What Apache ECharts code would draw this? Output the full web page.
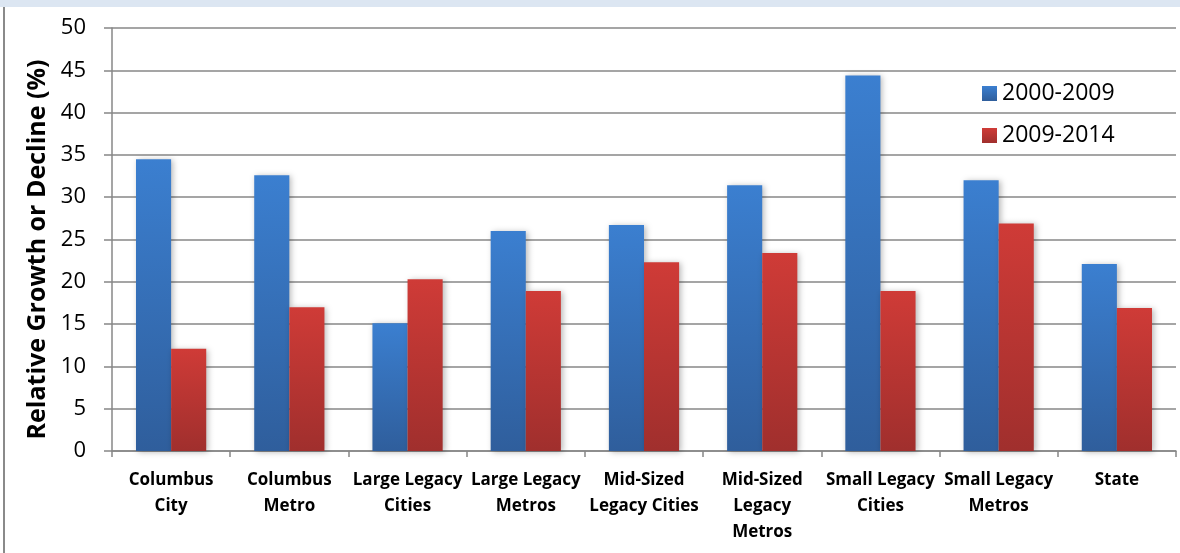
<!DOCTYPE html>
<html>
<head>
<meta charset="utf-8">
<script src="https://cdn.jsdelivr.net/npm/echarts@6/dist/echarts.min.js"></script>
<style>
  html, body { margin: 0; padding: 0; background: #fff; }
  #chart { width: 1180px; height: 553px; }
</style>
</head>
<body>
<div id="chart"></div>
<script>
// Region groups along the category axis
const categories = [
  'Columbus\nCity',
  'Columbus\nMetro',
  'Large Legacy\nCities',
  'Large Legacy\nMetros',
  'Mid-Sized\nLegacy Cities',
  'Mid-Sized\nLegacy\nMetros',
  'Small Legacy\nCities',
  'Small Legacy\nMetros',
  'State'
];

// Relative growth or decline (%) per period
const growth2000to2009 = [34.5, 32.6, 15.1, 26.0, 26.7, 31.4, 44.4, 32.0, 22.1];
const growth2009to2014 = [12.1, 17.0, 20.3, 18.9, 22.3, 23.4, 18.9, 26.9, 16.9];

const seriesNames = ['2000-2009', '2009-2014'];
const yTicks = { min: 0, max: 50, step: 5 };
const yTitle = 'Relative Growth or Decline (%)';

const FONT = '"Open Sans", "Noto Sans", sans-serif';
const AXIS_GRAY = '#878787';

function vGrad(top, bottom) {
  return new echarts.graphic.LinearGradient(0, 0, 0, 1, [
    { offset: 0, color: top },
    { offset: 1, color: bottom }
  ]);
}

const blueFill = vGrad('#3b7fd0', '#2f5e9c');
const redFill = vGrad('#cf3b37', '#a02f2d');

const barShadow = {
  shadowBlur: 6,
  shadowColor: 'rgba(0,0,0,0.28)',
  shadowOffsetX: 2,
  shadowOffsetY: 1
};

const chart = echarts.init(document.getElementById('chart'), null, { renderer: 'canvas' });

chart.setOption({
  animation: false,
  backgroundColor: '#ffffff',
  textStyle: { fontFamily: FONT },
  graphic: [
    // pale band across the top edge
    { type: 'rect', left: 0, top: 0, shape: { width: 1180, height: 7 }, style: { fill: '#dce6f2' }, silent: true },
    // frame line on the left side
    { type: 'rect', left: 3, top: 7, shape: { width: 2, height: 546 }, style: { fill: '#8a8a8a' }, silent: true }
  ],
  grid: { left: 112, right: 4, top: 28, bottom: 102, containLabel: false },
  legend: {
    data: seriesNames,
    orient: 'vertical',
    left: 977,
    top: 77,
    icon: 'rect',
    itemWidth: 15,
    itemHeight: 15,
    itemGap: 19,
    textStyle: { fontSize: 23, color: '#000', fontFamily: FONT },
    selectedMode: false
  },
  xAxis: {
    type: 'category',
    data: categories,
    boundaryGap: true,
    axisLine: { show: true, lineStyle: { color: AXIS_GRAY, width: 1.5 } },
    axisTick: { show: true, length: 6, alignWithLabel: false, lineStyle: { color: AXIS_GRAY, width: 1.5 } },
    axisLabel: {
      interval: 0,
      margin: 16,
      fontSize: 17,
      fontWeight: 'bold',
      color: '#000',
      lineHeight: 26,
      fontFamily: FONT
    },
    splitLine: { show: false }
  },
  yAxis: {
    type: 'value',
    min: yTicks.min,
    max: yTicks.max,
    interval: yTicks.step,
    name: yTitle,
    nameLocation: 'middle',
    nameGap: 62,
    nameRotate: 90,
    nameTextStyle: {
      fontSize: 25,
      fontWeight: 'bold',
      color: '#000',
      fontFamily: FONT,
      padding: [0, 20, 0, 0]
    },
    axisLine: { show: true, lineStyle: { color: AXIS_GRAY, width: 1.5 } },
    axisTick: { show: true, length: 8, inside: false, lineStyle: { color: AXIS_GRAY, width: 1.5 } },
    axisLabel: { fontSize: 22, color: '#000', margin: 26, fontFamily: FONT },
    splitLine: { show: true, lineStyle: { color: AXIS_GRAY, width: 1.5 } }
  },
  series: [
    {
      name: seriesNames[0],
      type: 'bar',
      data: growth2000to2009,
      barGap: '0%',
      barCategoryGap: '40.6%',
      itemStyle: Object.assign({ color: blueFill }, barShadow)
    },
    {
      name: seriesNames[1],
      type: 'bar',
      data: growth2009to2014,
      barGap: '0%',
      barCategoryGap: '40.6%',
      itemStyle: Object.assign({ color: redFill }, barShadow)
    }
  ]
});
</script>
</body>
</html>
